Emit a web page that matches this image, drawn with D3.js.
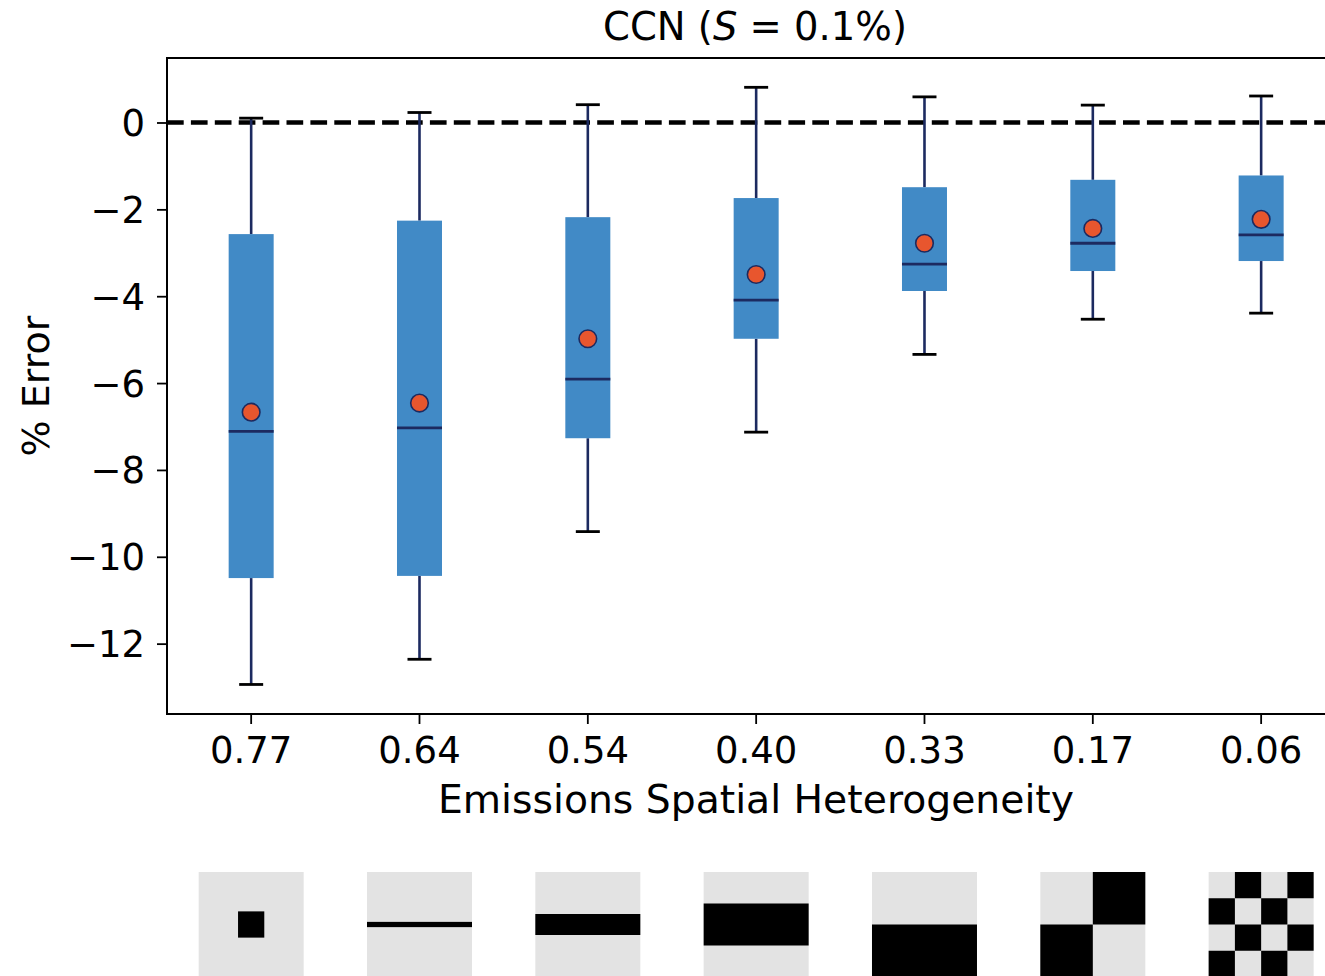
<!DOCTYPE html>
<html><head><meta charset="utf-8">
<script src="https://cdn.jsdelivr.net/npm/d3@7"></script>
<style>body{margin:0;background:#fff}svg{display:block}text{font-family:"DejaVu Sans",sans-serif;fill:#000}</style>
</head><body><svg id="c" width="1325" height="976"></svg>
<script>
const categories = ["0.77","0.64","0.54","0.40","0.33","0.17","0.06"];
const whiskerHigh = [0.10, 0.23, 0.41, 0.81, 0.59, 0.40, 0.61];
const q3 = [-2.57, -2.26, -2.18, -1.74, -1.49, -1.32, -1.22];
const medians = [-7.11, -7.03, -5.91, -4.09, -3.26, -2.78, -2.59];
const means = [-6.67, -6.46, -4.98, -3.50, -2.78, -2.44, -2.23];
const q1 = [-10.49, -10.44, -7.27, -4.98, -3.88, -3.42, -3.19];
const whiskerLow = [-12.94, -12.36, -9.42, -7.13, -5.34, -4.53, -4.39];
const yTicks = [0, -2, -4, -6, -8, -10, -12];
const titleText = ["CCN (", "S", " = 0.1%)"];
const xLabel = "Emissions Spatial Heterogeneity";
const yLabel = "% Error";
// emission patterns: black rectangles on a 40x40 grid [c0, r0, c1, r1]
const patterns = [
  [[15,15,25,25]],
  [[0,19,40,21]],
  [[0,16,40,24]],
  [[0,12,40,28]],
  [[0,20,40,40]],
  [[20,0,40,20],[0,20,20,40]],
  [[10,0,20,10],[30,0,40,10],[0,10,10,20],[20,10,30,20],[10,20,20,30],[30,20,40,30],[0,30,10,40],[20,30,30,40]]
];

const svg = d3.select("#c");
const L = 167, T = 58, B = 714, step = 168.33;
const R = L + step * categories.length;
const x = d3.scaleBand().domain(categories).range([L, R]).paddingInner(0).paddingOuter(0);
const xc = d => x(d) + x.bandwidth() / 2;
const y = d3.scaleLinear().domain([-13.62, 1.485]).range([B, T]);

const boxFill = "#418ac6", navy = "#1c2a60", orange = "#e8562e";
const boxW = 45, capW = 24;

const data = categories.map((c, i) => ({c, hi: whiskerHigh[i], q3: q3[i], med: medians[i], mean: means[i], q1: q1[i], lo: whiskerLow[i]}));

// zero line
svg.append("line").attr("x1", L).attr("x2", R).attr("y1", y(0)).attr("y2", y(0))
  .attr("stroke", "#000").attr("stroke-width", 4.5).attr("stroke-dasharray", "16.7,7.2");

const g = svg.append("g").selectAll("g").data(data).join("g");
// whiskers
g.append("line").attr("x1", d => xc(d.c)).attr("x2", d => xc(d.c)).attr("y1", d => y(d.hi)).attr("y2", d => y(d.q3)).attr("stroke", navy).attr("stroke-width", 2.6);
g.append("line").attr("x1", d => xc(d.c)).attr("x2", d => xc(d.c)).attr("y1", d => y(d.q1)).attr("y2", d => y(d.lo)).attr("stroke", navy).attr("stroke-width", 2.6);
// caps
g.append("line").attr("x1", d => xc(d.c) - capW/2).attr("x2", d => xc(d.c) + capW/2).attr("y1", d => y(d.hi)).attr("y2", d => y(d.hi)).attr("stroke", "#000").attr("stroke-width", 2.8);
g.append("line").attr("x1", d => xc(d.c) - capW/2).attr("x2", d => xc(d.c) + capW/2).attr("y1", d => y(d.lo)).attr("y2", d => y(d.lo)).attr("stroke", "#000").attr("stroke-width", 2.8);
// box
g.append("rect").attr("x", d => xc(d.c) - boxW/2).attr("width", boxW).attr("y", d => y(d.q3)).attr("height", d => y(d.q1) - y(d.q3)).attr("fill", boxFill);
// median
g.append("line").attr("x1", d => xc(d.c) - boxW/2).attr("x2", d => xc(d.c) + boxW/2).attr("y1", d => y(d.med)).attr("y2", d => y(d.med)).attr("stroke", navy).attr("stroke-width", 2.8);
// mean
g.append("circle").attr("cx", d => xc(d.c)).attr("cy", d => y(d.mean)).attr("r", 8.8).attr("fill", orange).attr("stroke", navy).attr("stroke-width", 1.6);

// axes
const yAxis = d3.axisLeft(y).tickValues(yTicks).tickSize(10).tickPadding(12).tickFormat(d => d < 0 ? "\u2212" + Math.abs(d) : d);
const ya = svg.append("g").attr("transform", `translate(${L},0)`).call(yAxis);
ya.select(".domain").remove();
ya.selectAll(".tick line").attr("stroke", "#000").attr("stroke-width", 1.8);
ya.selectAll("text").style("font-size", "37px").attr("dy", "0.35em");

const xAxis = d3.axisBottom(x).tickSize(10).tickPadding(13);
const xa = svg.append("g").attr("transform", `translate(0,${B})`).call(xAxis);
xa.select(".domain").remove();
xa.selectAll(".tick line").attr("stroke", "#000").attr("stroke-width", 1.8);
xa.selectAll("text").style("font-size", "37px").attr("dy", "0.71em");

// spines
svg.append("path").attr("d", `M${R},${T}H${L}V${B}H${R}V${T}`).attr("fill", "none").attr("stroke", "#000").attr("stroke-width", 2);

// labels
svg.append("text").attr("x", 756).attr("y", 813).attr("text-anchor", "middle").style("font-size", "39.3px").text(xLabel);
svg.append("text").attr("transform", `translate(49,386) rotate(-90)`).attr("text-anchor", "middle").style("font-size", "38px").text(yLabel);
const t = svg.append("text").attr("x", 755).attr("y", 40).attr("text-anchor", "middle").style("font-size", "38.5px");
t.append("tspan").text(titleText[0]);
t.append("tspan").attr("font-style", "italic").text(titleText[1]);
t.append("tspan").text(titleText[2]);

// pattern images
const imgSize = 105, imgTop = 872;
const gs = d3.scaleLinear().domain([0, 40]).range([0, imgSize]);
const pg = svg.append("g").selectAll("g").data(patterns).join("g")
  .attr("transform", (d, i) => `translate(${xc(categories[i]) - imgSize/2},${imgTop})`);
pg.append("rect").attr("width", imgSize).attr("height", imgSize).attr("fill", "#e3e3e3");
pg.selectAll("rect.b").data(d => d).join("rect").attr("class", "b")
  .attr("x", d => gs(d[0])).attr("y", d => gs(d[1])).attr("width", d => gs(d[2]) - gs(d[0])).attr("height", d => gs(d[3]) - gs(d[1])).attr("fill", "#000");
</script></body></html>
